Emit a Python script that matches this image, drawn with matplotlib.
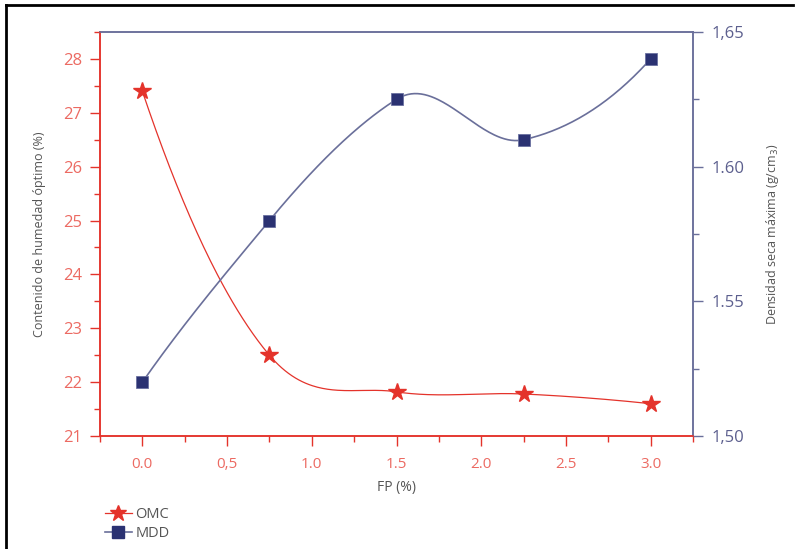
import numpy as np
import matplotlib
matplotlib.use("Agg")
import matplotlib.pyplot as plt
from matplotlib.lines import Line2D
from matplotlib.ticker import FixedLocator, FixedFormatter, MultipleLocator

plt.rcParams['font.family'] = ['Open Sans', 'DejaVu Sans']

# --- data ---
fp = [0.0, 0.75, 1.5, 2.25, 3.0]
omc = [27.4, 22.5, 21.82, 21.78, 21.6]
mdd = [1.52, 1.58, 1.625, 1.61, 1.64]

x_ticks = [0.0, 0.5, 1.0, 1.5, 2.0, 2.5, 3.0]
x_labels = ["0.0", "0,5", "1.0", "1.5", "2.0", "2.5", "3.0"]
yl_ticks = [21, 22, 23, 24, 25, 26, 27, 28]
yr_ticks = [1.50, 1.55, 1.60, 1.65]
yr_labels = ["1,50", "1.55", "1.60", "1,65"]

RED = "#e4332b"
RED_TXT = "#ec6a62"
NAVY = "#2b3272"
NAVY_LINE = "#6a6f9a"
NAVY_TXT = "#5c5f8e"
GREY = "#555555"


def akima_tangents(x, y):
    m = np.diff(y) / np.diff(x)
    m = np.concatenate([[3 * m[0] - 2 * m[1], 2 * m[0] - m[1]], m,
                        [2 * m[-1] - m[-2], 3 * m[-1] - 2 * m[-2]]])
    t = np.empty(len(x))
    for i in range(len(x)):
        w1 = abs(m[i + 3] - m[i + 2])
        w2 = abs(m[i + 1] - m[i])
        t[i] = 0.5 * (m[i + 1] + m[i + 2]) if w1 + w2 == 0 else (w1 * m[i + 1] + w2 * m[i + 2]) / (w1 + w2)
    return t


def catmull_tangents(x, y):
    m = np.diff(y) / np.diff(x)
    t = np.empty(len(x))
    t[1:-1] = (y[2:] - y[:-2]) / (x[2:] - x[:-2])
    t[0] = 2 * m[0] - t[1]
    t[-1] = 2 * m[-1] - t[-2]
    return t


def smooth(x, y, tangents, n=300):
    # cubic hermite curve through the points (no scipy needed)
    x = np.asarray(x, float)
    y = np.asarray(y, float)
    t = tangents(x, y)
    xs = np.linspace(x[0], x[-1], n)
    i = np.clip(np.searchsorted(x, xs, side="right") - 1, 0, len(x) - 2)
    h = x[i + 1] - x[i]
    s = (xs - x[i]) / h
    ys = ((2 * s**3 - 3 * s**2 + 1) * y[i] + (s**3 - 2 * s**2 + s) * h * t[i]
          + (-2 * s**3 + 3 * s**2) * y[i + 1] + (s**3 - s**2) * h * t[i + 1])
    return xs, ys


fig = plt.figure(figsize=(7.95, 5.49), dpi=100)
ax = fig.add_axes([0.1258, 0.2058, 0.7459, 0.7359])
ax2 = ax.twinx()

# OMC on left axis
sx, sy = smooth(fp, omc, catmull_tangents)
ax.plot(sx, sy, color=RED, lw=0.9, zorder=3)
ax.plot(fp, omc, ls="none", marker="*", ms=13, color=RED, mec=RED, zorder=4)

# MDD on right axis
sx2, sy2 = smooth(fp, mdd, akima_tangents)
ax2.plot(sx2, sy2, color=NAVY_LINE, lw=1.2, zorder=3)
ax2.plot(fp, mdd, ls="none", marker="s", ms=9, color=NAVY, mec="#6a70a0", mew=0.6, zorder=4)

ax.set_xlim(-0.25, 3.25)
ax.set_ylim(21, 28.5)
ax2.set_ylim(1.50, 1.65)

ax.xaxis.set_major_locator(FixedLocator(x_ticks))
ax.xaxis.set_major_formatter(FixedFormatter(x_labels))
ax.xaxis.set_minor_locator(MultipleLocator(0.25))
ax.yaxis.set_major_locator(FixedLocator(yl_ticks))
ax.yaxis.set_minor_locator(MultipleLocator(0.5))
ax2.yaxis.set_major_locator(FixedLocator(yr_ticks))
ax2.yaxis.set_major_formatter(FixedFormatter(yr_labels))
ax2.yaxis.set_minor_locator(MultipleLocator(0.025))

ax.tick_params(axis="x", which="major", direction="out", length=7, width=1, color=RED,
               labelcolor=RED_TXT, labelsize=11, pad=8)
ax.tick_params(axis="x", which="minor", direction="out", length=4, width=1, color=RED)
ax.tick_params(axis="y", which="major", direction="out", length=7, width=1, color=RED,
               labelcolor=RED_TXT, labelsize=12, pad=6)
ax.tick_params(axis="y", which="minor", direction="out", length=4, width=1, color=RED)
ax2.tick_params(axis="y", which="major", direction="out", length=7, width=1, color=NAVY_LINE,
                labelcolor=NAVY_TXT, labelsize=12, pad=6)
ax2.tick_params(axis="y", which="minor", direction="out", length=4, width=1, color=NAVY_LINE)

for a in (ax, ax2):
    a.spines["left"].set_color(RED)
    a.spines["bottom"].set_color(RED)
    a.spines["top"].set_color(NAVY_LINE)
    a.spines["right"].set_color(NAVY_LINE)
    for s in a.spines.values():
        s.set_linewidth(1.1)

ax.set_xlabel("FP (%)", color=GREY, fontsize=10, labelpad=6)
ax.set_ylabel("Contenido de humedad óptimo (%)", color=GREY, fontsize=9, labelpad=12)
ax2.set_ylabel("Densidad seca máxima (g/cm$_3$)", color=GREY, fontsize=9, labelpad=14)

handles = [
    Line2D([], [], color=RED, lw=0.9, marker="*", ms=12, mec=RED),
    Line2D([], [], color=NAVY_LINE, lw=1.2, marker="s", ms=8, mfc=NAVY, mec=NAVY),
]
fig.legend(handles, ["OMC", "MDD"], loc="upper left", bbox_to_anchor=(0.115, 0.1),
           frameon=False, fontsize=10.5, handlelength=1.9, handletextpad=0.2,
           labelspacing=0.25, labelcolor=GREY)

# black frame fragments of the page (left and top edges)
fig.add_artist(Line2D([0.0075, 0.0075], [0.0, 0.991], color="black", lw=2,
                      transform=fig.transFigure))
fig.add_artist(Line2D([0.0075, 0.998], [0.991, 0.991], color="black", lw=2,
                      transform=fig.transFigure))

fig.savefig("out.png", dpi=100)
